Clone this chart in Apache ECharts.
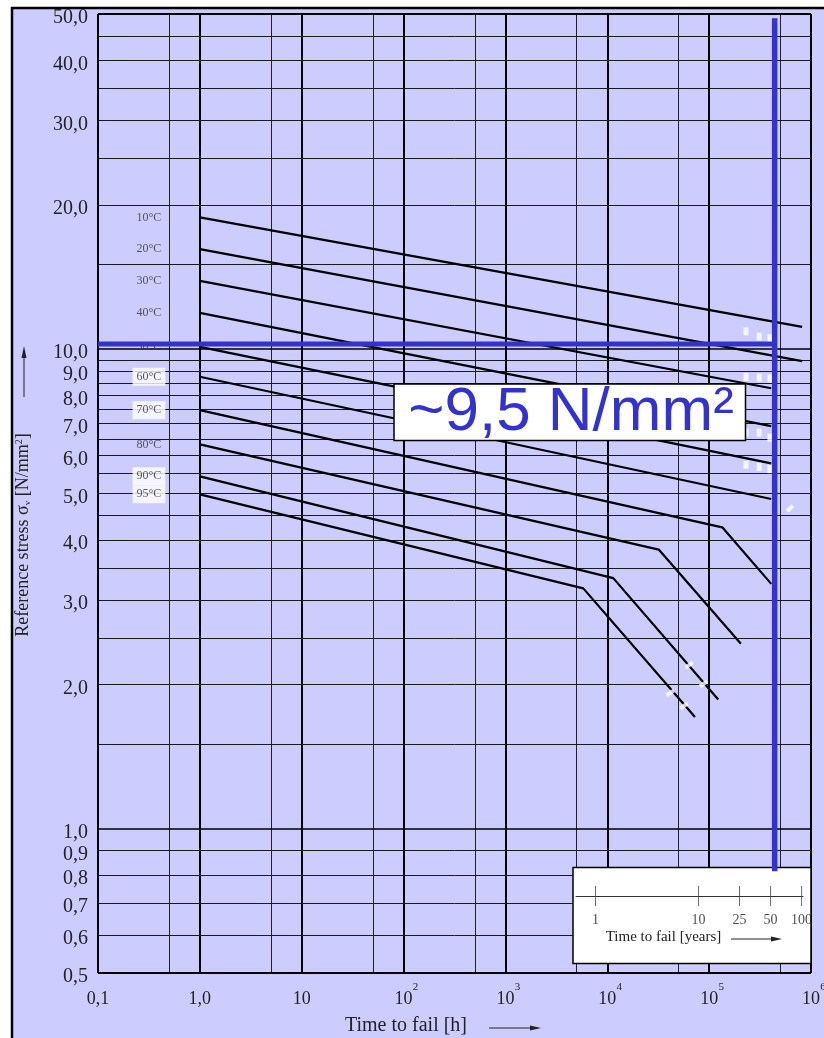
<!DOCTYPE html>
<html><head><meta charset="utf-8">
<script src="https://cdn.jsdelivr.net/npm/echarts@6/dist/echarts.min.js"></script>
<style>html,body{margin:0;padding:0;background:#fff}#c{width:824px;height:1038px}</style>
</head><body><div id="c"></div>
<script>
// ---------- data ----------
const temperatures = ['10°C','20°C','30°C','40°C','50°C','60°C','70°C','80°C','90°C','95°C'];
const curve10 = [[1,18.83],[8.19e5,11.13]];
const curve20 = [[1,16.17],[8.19e5,9.44]];
const curve30 = [[1,13.88],[4.07e5,8.29]];
const curve40 = [[1,11.90],[4.07e5,6.91]];
const curve50 = [[1,10.11],[4.07e5,5.78]];
const curve60 = [[1,8.76],[4.07e5,4.87]];
const curve70 = [[1,7.46],[1.345e5,4.25],[4.07e5,3.24]];
const curve80 = [[1,6.33],[3.2e4,3.82],[2.05e5,2.43]];
const curve90 = [[1,5.43],[1.145e4,3.33],[1.228e5,1.86]];
const curve95 = [[1,4.98],[5813,3.17],[7.26e4,1.71]];
const curves = [curve10,curve20,curve30,curve40,curve50,curve60,curve70,curve80,curve90,curve95];
const boxedLabels = ['60°C','70°C','90°C','95°C'];

const xTickValues = [0.1,1,10,100,1000,1e4,1e5,1e6];
const xTickBase = ['0,1','1,0','10','10','10','10','10','10'];
const xTickExp = ['','','','2','3','4','5','6'];
const yTickValues = [0.5,0.6,0.7,0.8,0.9,1,2,3,4,5,6,7,8,9,10,20,30,40,50];
const yTickLabels = ['0,5','0,6','0,7','0,8','0,9','1,0','2,0','3,0','4,0','5,0','6,0','7,0','8,0','9,0','10,0','20,0','30,0','40,0','50,0'];

const xGridMajor = [0.1,1,10,100,1000,1e4,1e5,1e6];
const xGridMinor = [0.5,5,50,500,5000,5e4,5e5];
const yGrid = [0.5,0.6,0.7,0.8,0.9,1,1.5,2,2.5,3,3.5,4,4.5,5,5.5,6,6.5,7,7.5,8,8.5,9,9.5,10,15,20,25,30,35,40,45,50];
const yGridBorder = [0.5,50];
const yGridStrong = [1,10];

const readStress = 10.25;     // horizontal reading line [N/mm²]
const readTime = 4.4e5;       // vertical reading line [h] (~50 years)
const readTop = 49, readBottom = 0.815;
const readLabel = '~9,5 N/mm²';

const yearTicks = [1,10,25,50,100];

const whiteDashes = [[2.30e5,10.89],[3.10e5,10.62],[3.95e5,10.54],
  [2.30e5,8.75],[3.10e5,8.72],[3.95e5,8.69],
  [2.30e5,6.70],[3.10e5,6.70],[3.95e5,6.54],
  [2.30e5,5.74],[3.10e5,5.68],[3.95e5,5.62]];
const whiteCrossMarks = [[6.38e4,2.195],[8.81e4,2.004],[4.15e4,1.919],[5.66e4,1.803]];
const whiteDiamond = [[6.21e5,4.65]];

// ---------- chart ----------
const SERIF = 'Liberation Serif';
function nearest(arr, v){
  let bi = 0, bd = Infinity;
  arr.forEach((a,i)=>{ const d = Math.abs(Math.log10(a) - Math.log10(v)); if (d < bd){bd=d;bi=i;} });
  return bi;
}
const gridLines = [];
xGridMajor.forEach(v=>gridLines.push({xAxis:v, lineStyle:{color:'#000', width:2, type:'solid'}}));
xGridMinor.forEach(v=>gridLines.push({xAxis:v, lineStyle:{color:'#222', width:1, type:'solid'}}));
yGrid.forEach(v=>{
  let w = 1, c = '#1a1a1a';
  if (yGridBorder.indexOf(v) >= 0) { w = 2; c = '#000'; }
  else if (yGridStrong.indexOf(v) >= 0) { w = 1.5; c = '#000'; }
  gridLines.push({yAxis:v, lineStyle:{color:c, width:w, type:'solid'}});
});

const series = [];
series.push({
  type:'line', data:[], silent:true, z:1,
  markLine:{silent:true, symbol:['none','none'], label:{show:false}, z:1, animation:false,
    lineStyle:{type:'solid'}, emphasis:{disabled:true}, data: gridLines}
});
curves.forEach((c,i)=>{
  series.push({type:'line', name:temperatures[i], data:c, symbol:'none', z:10, silent:true,
    lineStyle:{color:'#000', width:2.2}});
});
series.push({
  type:'scatter', z:12, silent:true, symbolSize:1, itemStyle:{color:'rgba(0,0,0,0)'},
  data: curves.map((c,i)=>{
    const boxed = boxedLabels.indexOf(temperatures[i]) >= 0;
    return {value:c[0], name:temperatures[i], label:{
      show:true, position:'left', distance:34, formatter:'{b}',
      fontFamily:SERIF, fontSize:12, color:'#333', lineHeight:14,
      backgroundColor: boxed ? '#fff' : 'transparent', padding:[2,4,2,4]}};
  })
});
series.push({type:'scatter', z:13, silent:true, data:whiteDashes, symbol:'rect', symbolSize:[5,8], itemStyle:{color:'#fff'}});
series.push({type:'scatter', z:13, silent:true, data:whiteCrossMarks, symbol:'rect', symbolSize:[9,4], symbolRotate:35, itemStyle:{color:'#fff'}});
series.push({type:'scatter', z:13, silent:true, data:whiteDiamond, symbol:'rect', symbolSize:[8,4], symbolRotate:45, itemStyle:{color:'#fff'}});
series.push({type:'line', z:20, silent:true, symbol:'none', data:[[0.1,readStress],[readTime,readStress]], lineStyle:{color:'#3333cc', width:5}});
series.push({type:'line', z:20, silent:true, symbol:'none', data:[[readTime,readTop],[readTime,readBottom]], lineStyle:{color:'#3333cc', width:5.5}});
series.push({
  type:'scatter', xAxisIndex:1, yAxisIndex:1, z:30, silent:true,
  data: yearTicks.map(y=>[y,0]), symbol:'rect', symbolSize:[1,20], itemStyle:{color:'#444'},
  label:{show:true, position:'bottom', distance:7, formatter:p=>String(p.value[0]), fontFamily:SERIF, fontSize:14, color:'#222'}
});

const option = {
  animation:false,
  backgroundColor:'#fff',
  textStyle:{fontFamily:SERIF},
  grid:[{left:98, top:14, width:713, height:959, outerBoundsMode:'none', containLabel:false},
        {left:576, top:886, width:227, height:20, outerBoundsMode:'none', containLabel:false}],
  xAxis:[{
    type:'log', logBase:10, min:0.1, max:1e6, gridIndex:0,
    axisLine:{show:false}, axisTick:{show:false}, splitLine:{show:false}, minorSplitLine:{show:false},
    axisLabel:{customValues:xTickValues, margin:11, color:'#222', hideOverlap:false,
      formatter:function(v){ const i = nearest(xTickValues, v); const e = xTickExp[i];
        return '{s|' + (e || ' ') + '}\n{b|' + xTickBase[i] + '}'; },
      rich:{
        s:{fontSize:11, lineHeight:6, padding:[0,0,0,24], align:'center', fontFamily:SERIF, color:'#222'},
        b:{fontSize:18, lineHeight:18, align:'center', fontFamily:SERIF, color:'#222'}
      }}
  },{
    type:'log', logBase:10, min:0.647, max:103.2, gridIndex:1, z:30,
    axisLine:{show:true, onZero:true, lineStyle:{color:'#333', width:1}},
    axisTick:{show:false}, axisLabel:{show:false}, splitLine:{show:false}
  }],
  yAxis:[{
    type:'log', logBase:10, min:0.5, max:50, gridIndex:0,
    axisLine:{show:false}, axisTick:{show:false}, splitLine:{show:false},
    axisLabel:{customValues:yTickValues, margin:10, color:'#222', hideOverlap:false,
      formatter:function(v){ return '{a|' + yTickLabels[nearest(yTickValues, v)] + '}'; },
      rich:{a:{fontSize:20, fontFamily:SERIF, color:'#222', padding:[8,0,0,0], lineHeight:20}}}
  },{
    type:'value', gridIndex:1, min:-1, max:1, show:false
  }],
  graphic:[
    {type:'rect', z:-10, silent:true, shape:{x:12, y:8, width:900, height:1100}, style:{fill:'#ccccff', stroke:'#000', lineWidth:2.5}},
    // inset box
    {type:'rect', z:15, silent:true, shape:{x:573, y:867.5, width:238, height:96}, style:{fill:'#fff', stroke:'#000', lineWidth:1.5}},
    {type:'text', z:31, silent:true, x:663.5, y:937, style:{text:'Time to fail [years]', fontSize:15, fontFamily:SERIF, fill:'#222', align:'center', verticalAlign:'middle', textAlign:'center', textVerticalAlign:'middle'}},
    {type:'line', z:31, silent:true, shape:{x1:731, y1:939, x2:773, y2:939}, style:{stroke:'#222', lineWidth:1}},
    {type:'polygon', z:31, silent:true, shape:{points:[[771,936.5],[782,939],[771,941.5]]}, style:{fill:'#222'}},
    // annotation box
    {type:'rect', z:25, silent:true, shape:{x:394, y:384, width:351.5, height:56.5}, style:{fill:'#fff', stroke:'#000', lineWidth:1.5}},
    {type:'text', z:26, silent:true, x:571, y:413, style:{text:readLabel, fontSize:62, fontFamily:'Liberation Sans', fill:'#3333cc', align:'center', verticalAlign:'middle', textAlign:'center', textVerticalAlign:'middle'}},
    // x title
    {type:'text', z:26, silent:true, x:406, y:1026, style:{text:'Time to fail [h]', fontSize:20, fontFamily:SERIF, fill:'#222', align:'center', verticalAlign:'middle', textAlign:'center', textVerticalAlign:'middle'}},
    {type:'line', z:26, silent:true, shape:{x1:489, y1:1028, x2:532, y2:1028}, style:{stroke:'#222', lineWidth:1}},
    {type:'polygon', z:26, silent:true, shape:{points:[[530,1025.5],[541,1028],[530,1030.5]]}, style:{fill:'#222'}},
    // y title
    {type:'text', z:26, silent:true, x:23, y:535, rotation:Math.PI/2, style:{
      text:'Reference stress σ{sub|v} [N/mm{sup|2}]', fontSize:18, fontFamily:SERIF, fill:'#222',
      align:'center', verticalAlign:'middle', textAlign:'center', textVerticalAlign:'middle',
      rich:{
        sub:{fontSize:9, fontFamily:SERIF, fill:'#222', verticalAlign:'bottom', lineHeight:10},
        sup:{fontSize:10, fontFamily:SERIF, fill:'#222', verticalAlign:'top', lineHeight:10}
      }}},
    {type:'line', z:26, silent:true, shape:{x1:24, y1:397, x2:24, y2:356}, style:{stroke:'#222', lineWidth:1}},
    {type:'polygon', z:26, silent:true, shape:{points:[[21.5,358],[24,346],[26.5,358]]}, style:{fill:'#222'}}
  ],
  series: series
};
const chart = echarts.init(document.getElementById('c'), null, {renderer:'canvas'});
chart.setOption(option);
</script></body></html>
